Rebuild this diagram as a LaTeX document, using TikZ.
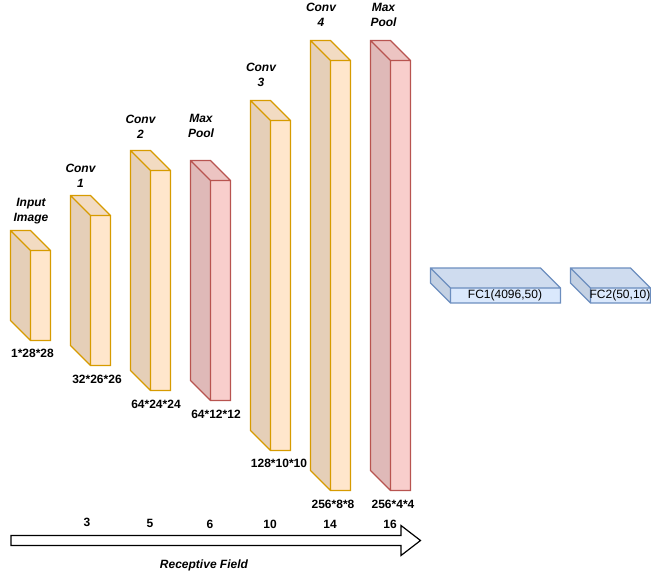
\documentclass[tikz,border=0pt]{standalone}
\usepackage{fontspec}
\setmainfont{Liberation Sans}
\definecolor{orF}{HTML}{FFE6CC}\definecolor{orS}{HTML}{D79B00}
\definecolor{reF}{HTML}{F8CECC}\definecolor{reS}{HTML}{B85450}
\definecolor{blF}{HTML}{DAE8FC}\definecolor{blS}{HTML}{6C8EBF}
\newcommand{\cuboid}[6]{% x0 y0 x1 y1 fill stroke
  \fill[#5] (#1+20,#2+20) rectangle (#3,#4);
  \fill[#5!95!black] (#1,#2) -- (#3-20,#2) -- (#3,#2+20) -- (#1+20,#2+20) -- cycle;
  \fill[#5!90!black] (#1,#2) -- (#1+20,#2+20) -- (#1+20,#4) -- (#1,#4-20) -- cycle;
  \draw[draw=#6,cubeline] (#1,#2) -- (#3-20,#2) -- (#3,#2+20) -- (#3,#4) -- (#1+20,#4) -- (#1,#4-20) -- cycle
     (#1,#2) -- (#1+20,#2+20) -- (#3,#2+20) (#1+20,#2+20) -- (#1+20,#4);
}
\tikzset{
  cubeline/.style={line width=1.2pt,line join=miter},
  layerlabel/.style={font=\fontsize{12}{15}\selectfont\bfseries\itshape,align=center,inner sep=0pt},
  dimlabel/.style={font=\fontsize{12}{15}\selectfont\bfseries,inner sep=0pt},
  fclabel/.style={font=\fontsize{12}{15}\selectfont,inner sep=0pt}
}
\begin{document}
\begin{tikzpicture}[x=1pt,y=-1pt]
\useasboundingbox (0,0) rectangle (651,581);
\cuboid{10.5}{230.5}{50.5}{340.5}{orF}{orS}
\cuboid{70.5}{195.5}{110.5}{365.5}{orF}{orS}
\cuboid{130.5}{150.5}{170.5}{390.5}{orF}{orS}
\cuboid{190.5}{160.5}{230.5}{400.5}{reF}{reS}
\cuboid{250.5}{100.5}{290.5}{450.5}{orF}{orS}
\cuboid{310.5}{40.5}{350.5}{490.5}{orF}{orS}
\cuboid{370.5}{40.5}{410.5}{490.5}{reF}{reS}
\cuboid{430.5}{268}{560.5}{303}{blF}{blS}
\cuboid{570.5}{268}{650.5}{303}{blF}{blS}
\node[layerlabel] (l0) at (31,211) {Input\\Image};
\node[layerlabel] (l1) at (80.5,175.5) {Conv\\1};
\node[layerlabel] (l2) at (140.5,126.5) {Conv\\2};
\node[layerlabel] (l3) at (201,125.5) {Max\\Pool};
\node[layerlabel] (l4) at (261,75) {Conv\\3};
\node[layerlabel] (l5) at (321,14.5) {Conv\\4};
\node[layerlabel] (l6) at (383.5,14.5) {Max\\Pool};
\node[dimlabel] (d0) at (32.5,353) {1*28*28};
\node[dimlabel] (d1) at (97,379) {32*26*26};
\node[dimlabel] (d2) at (156,404) {64*24*24};
\node[dimlabel] (d3) at (216,414) {64*12*12};
\node[dimlabel] (d4) at (279,463) {128*10*10};
\node[dimlabel] (d5) at (333,504) {256*8*8};
\node[dimlabel] (d6) at (393,504) {256*4*4};
\node[fclabel] (f1) at (505,295.5) {FC1(4096,50)};
\node[fclabel] (f2) at (620,295.5) {FC2(50,10)};
\draw[line width=1.2pt,fill=white,line join=miter] (11,535.5) -- (401,535.5) -- (401,525.5) -- (420.5,540.5) -- (401,555.5) -- (401,545.5) -- (11,545.5) -- cycle;
\node[dimlabel] (r1) at (87,522) {3};
\node[dimlabel] (r2) at (150,523) {5};
\node[dimlabel] (r3) at (210,524) {6};
\node[dimlabel] (r4) at (270,524) {10};
\node[dimlabel] (r5) at (330,524) {14};
\node[dimlabel] (r6) at (390,524) {16};
\node[layerlabel] (rf) at (204,565) {Receptive Field};
\end{tikzpicture}
\end{document}
